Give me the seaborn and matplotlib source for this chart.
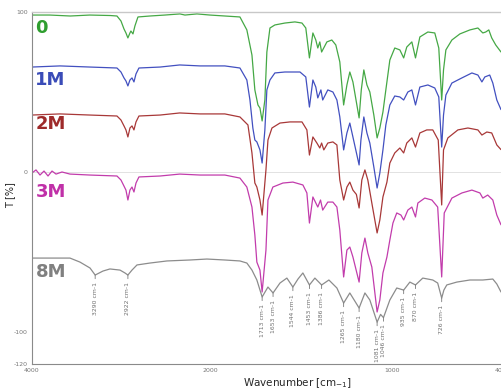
import numpy as np
import pandas as pd
import matplotlib
matplotlib.use("Agg")
import matplotlib.pyplot as plt
import seaborn as sns

# FTIR spectra, (wavenumber, T %), offset traces
spec_0 = [(4000, 98.1), (3800, 98.1), (3570, 97.5), (3350, 98.1), (3120, 97.8), (3045, 97.5),
          (3000, 94.4), (2966, 89.4), (2944, 86.9), (2922, 83.8), (2899, 86.9), (2888, 88.1),
          (2865, 86.3), (2843, 91.3), (2809, 96.9), (2674, 97.5), (2506, 98.1), (2337, 98.8),
          (2281, 98.1), (2146, 98.8), (2000, 98.1), (1918, 97.5), (1835, 96.9), (1797, 88.8),
          (1769, 73.1), (1753, 51.3), (1736, 41.9), (1725, 40.0), (1713, 31.9), (1698, 45.0),
          (1687, 75.0), (1670, 90.0), (1643, 91.9), (1588, 93.1), (1533, 93.8), (1494, 93.1),
          (1473, 90.0), (1453, 71.3), (1434, 86.9), (1418, 82.5), (1407, 77.5), (1396, 81.3),
          (1386, 75.0), (1357, 81.3), (1330, 82.5), (1308, 79.4), (1286, 68.8), (1265, 41.9),
          (1247, 54.4), (1231, 62.5), (1214, 56.3), (1180, 33.8), (1168, 51.3), (1154, 63.8),
          (1137, 54.4), (1121, 50.0), (1099, 35.6), (1081, 21.3), (1066, 27.5), (1049, 37.5),
          (1033, 51.3), (1011, 70.0), (984, 77.5), (956, 76.3), (935, 71.3), (918, 78.1),
          (890, 81.3), (870, 71.3), (846, 84.4), (802, 87.5), (764, 86.9), (742, 77.5),
          (726, 45.0), (716, 63.8), (703, 76.3), (670, 82.5), (626, 86.3), (571, 88.8),
          (527, 90.0), (500, 86.9), (484, 87.5), (467, 88.8), (451, 83.8), (429, 79.4), (400, 75.0)]

spec_1m = [(4000, 65.6), (3685, 66.3), (3350, 65.6), (3045, 65.0), (3000, 62.5), (2966, 58.8),
           (2944, 56.9), (2922, 53.8), (2899, 57.5), (2876, 58.8), (2854, 56.3), (2831, 61.3),
           (2798, 65.0), (2560, 65.6), (2340, 66.9), (2110, 66.3), (2000, 66.3), (1918, 66.3),
           (1835, 65.0), (1797, 57.5), (1780, 45.0), (1764, 27.5), (1753, 20.0), (1742, 18.8),
           (1725, 13.8), (1713, 5.6), (1698, 26.3), (1687, 51.3), (1670, 57.5), (1643, 61.9),
           (1588, 62.5), (1505, 62.5), (1473, 59.4), (1453, 40.6), (1434, 57.5), (1418, 53.1),
           (1407, 46.3), (1390, 51.3), (1380, 45.0), (1352, 51.3), (1324, 50.0), (1302, 45.0),
           (1286, 34.4), (1265, 13.8), (1247, 24.4), (1231, 30.6), (1214, 21.9), (1180, 4.4),
           (1170, 20.0), (1154, 34.4), (1137, 24.4), (1121, 18.1), (1099, 3.1), (1081, -10.0),
           (1066, -0.6), (1049, 13.8), (1033, 29.4), (1011, 41.9), (984, 47.5), (956, 46.9),
           (935, 45.0), (912, 50.0), (890, 51.3), (870, 41.9), (846, 53.1), (802, 54.4),
           (764, 52.5), (742, 46.9), (726, 15.6), (716, 35.6), (703, 48.1), (670, 55.6),
           (615, 58.8), (560, 61.9), (527, 60.6), (505, 56.3), (489, 59.4), (462, 60.6),
           (445, 55.6), (423, 45.0), (400, 39.0)]

spec_2m = [(4000, 35.6), (3685, 36.3), (3350, 35.6), (3045, 35.0), (3000, 32.5), (2966, 28.8),
           (2944, 26.3), (2922, 21.9), (2899, 27.5), (2876, 28.8), (2854, 26.3), (2831, 31.3),
           (2798, 35.0), (2560, 35.6), (2340, 36.9), (2110, 36.3), (1918, 36.3), (1835, 34.4),
           (1791, 29.4), (1769, 11.9), (1753, -6.9), (1742, -9.4), (1725, -17.5), (1713, -26.9),
           (1692, 1.3), (1681, 20.0), (1659, 27.5), (1615, 30.6), (1560, 31.3), (1494, 31.3),
           (1467, 26.3), (1453, 10.6), (1434, 21.9), (1412, 18.1), (1396, 15.0), (1386, 18.1),
           (1374, 13.8), (1352, 18.1), (1324, 18.8), (1302, 16.9), (1286, -5.0), (1265, -17.5),
           (1247, -9.4), (1231, -6.3), (1214, -11.3), (1195, -14.0), (1180, -22.5), (1165, -5.0),
           (1148, 1.3), (1132, -5.0), (1110, -19.4), (1081, -38.1), (1066, -30.0), (1049, -15.6),
           (1027, -6.3), (1011, 5.6), (984, 11.9), (956, 15.0), (935, 11.9), (918, 18.1),
           (890, 21.3), (870, 15.6), (846, 24.4), (808, 26.3), (775, 26.3), (745, 20.0),
           (726, -20.6), (716, 13.8), (692, 21.3), (637, 26.3), (582, 27.5), (527, 26.3),
           (505, 23.1), (478, 25.0), (451, 24.4), (423, 16.9), (400, 14.0)]

spec_3m = [(4000, -0.6), (3955, 1.3), (3910, -1.9), (3865, 0.6), (3820, -2.5), (3775, 0.6),
           (3730, -1.3), (3663, 0.0), (3573, -1.3), (3350, -1.9), (3045, -2.5), (3000, -5.0),
           (2966, -8.8), (2944, -11.3), (2922, -17.5), (2899, -11.3), (2876, -9.4), (2854, -12.5),
           (2831, -6.9), (2798, -3.1), (2560, -2.5), (2340, -1.3), (2110, -1.9), (1918, -1.9),
           (1835, -3.8), (1797, -9.4), (1769, -21.9), (1753, -39.4), (1742, -56.3), (1725, -61.3),
           (1713, -75.0), (1692, -48.8), (1681, -17.5), (1654, -9.4), (1599, -6.9), (1544, -6.3),
           (1489, -8.1), (1467, -13.1), (1453, -31.9), (1434, -15.6), (1407, -21.9), (1392, -17.5),
           (1380, -23.8), (1352, -18.8), (1324, -18.8), (1302, -21.9), (1286, -36.3), (1265, -65.6),
           (1247, -48.8), (1231, -46.9), (1214, -53.1), (1180, -68.8), (1165, -50.6), (1148, -41.3),
           (1132, -50.6), (1110, -59.4), (1081, -87.5), (1066, -80.0), (1049, -63.1), (1027, -53.1),
           (1011, -42.5), (994, -31.9), (973, -25.6), (950, -26.9), (935, -30.0), (912, -23.8),
           (890, -21.9), (870, -28.1), (857, -19.4), (819, -16.3), (780, -17.5), (748, -21.9),
           (726, -65.6), (712, -25.6), (670, -16.3), (615, -13.1), (560, -11.3), (516, -13.1),
           (500, -16.3), (473, -14.4), (445, -17.5), (423, -26.9), (400, -33.0)]

spec_8m = [(4000, -53.8), (3800, -53.8), (3573, -53.8), (3461, -56.3), (3348, -60.0), (3290, -64.4),
           (3202, -61.9), (3124, -60.6), (3011, -61.3), (2955, -63.1), (2922, -64.4), (2876, -61.3),
           (2820, -58.1), (2674, -56.9), (2483, -55.6), (2225, -55.0), (2034, -54.4), (1918, -55.0),
           (1835, -55.6), (1797, -56.9), (1769, -61.3), (1742, -67.5), (1713, -78.1), (1681, -71.9),
           (1653, -75.6), (1615, -69.4), (1577, -66.3), (1544, -71.9), (1516, -66.9), (1489, -63.1),
           (1453, -70.6), (1423, -66.3), (1386, -70.6), (1346, -67.5), (1302, -72.5), (1265, -81.9),
           (1231, -75.6), (1180, -85.0), (1148, -75.6), (1121, -80.0), (1081, -93.8), (1062, -89.0),
           (1046, -91.0), (1011, -80.0), (973, -72.5), (935, -73.8), (901, -68.8), (870, -70.6),
           (830, -66.3), (775, -67.5), (748, -69.4), (726, -78.8), (714, -73.8), (698, -70.6),
           (643, -68.8), (571, -67.5), (500, -67.5), (445, -66.9), (423, -70.0), (400, -75.0)]

samples = ["0", "1M", "2M", "3M", "8M"]
line_colors = ["#45a845", "#4250c0", "#a83838", "#c23cac", "#8c8c8c"]
text_colors = ["#2f9e2f", "#3a4cb8", "#9e2a2a", "#c030a8", "#808080"]
label_t = [90, 57.5, 30, -12.5, -62.5]

# peaks marked on the 8M trace
peak_wn = [3290, 2922, 1713, 1653, 1544, 1453, 1386, 1265, 1180, 1081, 1046, 935, 870, 726]

frames = []
for name, spec in zip(samples, [spec_0, spec_1m, spec_2m, spec_3m, spec_8m]):
    wn, t = zip(*spec)
    frames.append(pd.DataFrame({"Wavenumber": wn, "T": t, "Sample": name}))
df = pd.concat(frames, ignore_index=True)

# x axis is compressed 2x above 2000 cm-1 (typical OPUS layout)
r = 0.489
def fwd(w):
    w = np.asarray(w, dtype=float)
    return np.where(w > 2000, 2000 + (w - 2000) * r, w)
def inv(t):
    t = np.asarray(t, dtype=float)
    return np.where(t > 2000, 2000 + (t - 2000) / r, t)

sns.set_style("white")
fig = plt.figure(figsize=(5.01, 3.90), dpi=100)
ax = fig.add_axes([32 / 501, 26 / 390, 469 / 501, 352 / 390])

ax.axhline(0, color="#e2e2e2", lw=0.7, zorder=0)

sns.lineplot(data=df, x="Wavenumber", y="T", hue="Sample", palette=dict(zip(samples, line_colors)),
             estimator=None, sort=False, lw=0.9, legend=False, ax=ax)

ax.set_xscale("function", functions=(fwd, inv))
ax.set_xlim(4000, 400)
ax.set_ylim(-120, 100)

ax.set_xticks([4000, 2000, 1000, 400])
ax.set_xticks([3000, 1500, 500], minor=True)
ax.set_xticklabels(["4000", "2000", "1000", "400"])
ax.set_yticks([100, 0, -100, -120])
ax.set_yticks([50, -50], minor=True)
ax.set_yticklabels(["100", "0", "-100", "-120"])
ax.tick_params(axis="both", which="both", labelsize=4.5, colors="#777777", length=2,
               width=0.6, direction="out", pad=1)
ax.tick_params(axis="both", which="minor", length=1.5)

for side in ["left", "bottom"]:
    ax.spines[side].set_color("#8a8a8a")
    ax.spines[side].set_linewidth(0.8)
ax.spines["top"].set_color("#c8c8c8")
ax.spines["top"].set_linewidth(1.0)
ax.spines["right"].set_visible(False)

# sample labels
for name, c, y in zip(samples, text_colors, label_t):
    ax.text(3962, y, name, color=c, fontsize=13, fontweight="bold", ha="left", va="center")

# peak annotations on the 8M spectrum
lookup = dict(spec_8m)
for p in peak_wn:
    ax.annotate(f"{p} cm-1", xy=(p, lookup[p]), xytext=(0, -5), textcoords="offset points",
                rotation=90, ha="center", va="top", fontsize=4.4, color="#707070",
                arrowprops=dict(arrowstyle="-", color="#777777", lw=0.6, shrinkA=0, shrinkB=0))

ax.set_xlabel("Wavenumber [cm$_{-1}$]", fontsize=7.5)
ax.xaxis.set_label_coords(0.567, -0.034)
ax.set_ylabel("T [%]", fontsize=7)
ax.yaxis.set_label_coords(-0.036, 0.48)

fig.savefig("out.png", dpi=100)
